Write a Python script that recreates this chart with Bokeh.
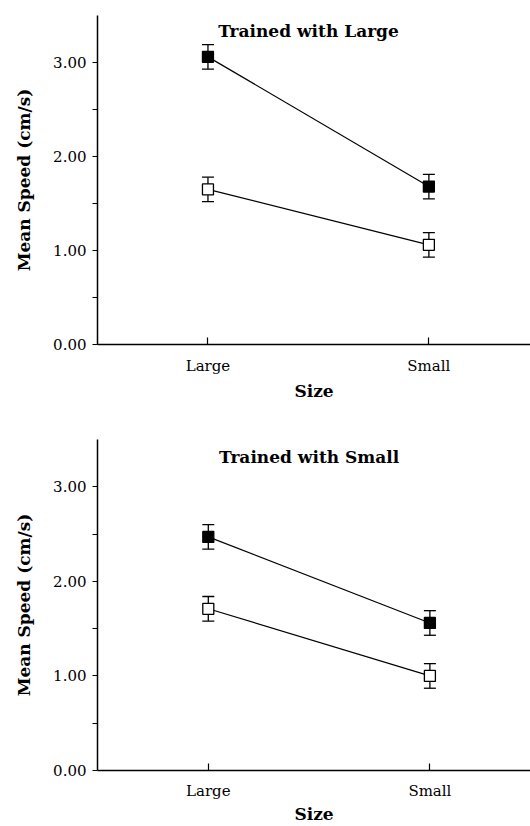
from bokeh.plotting import figure
from bokeh.models import ColumnDataSource, Whisker, TeeHead, FixedTicker, Label, Range1d
from bokeh.layouts import column
from bokeh.embed import file_html
from bokeh.resources import INLINE

# ---- data ----
sizes = ["Large", "Small"]
y_ticks = [0, 1, 2, 3]
y_minor_ticks = [0.5, 1.5, 2.5]
y_tick_labels = ["0.00", "1.00", "2.00", "3.00"]

titles = ["Trained with Large", "Trained with Small"]

large_filled = [3.06, 1.68]
large_filled_err = [0.13, 0.13]
large_open = [1.65, 1.06]
large_open_err = [0.13, 0.13]

small_filled = [2.47, 1.56]
small_filled_err = [0.13, 0.13]
small_open = [1.71, 1.00]
small_open_err = [0.13, 0.13]

FONT = "DejaVu Serif"


def make(title, filled, filled_err, open_, open_err, height, b_top, b_left, b_bottom, x_end,
         title_y, tick_standoff, label_standoff):
    xs = list(range(len(sizes)))
    p = figure(width=530, height=height, output_backend="svg", toolbar_location=None,
               x_range=Range1d(-0.5, x_end), y_range=Range1d(0, 3.5),
               min_border_top=b_top, min_border_left=b_left, min_border_right=0,
               min_border_bottom=b_bottom)
    p.outline_line_color = None
    p.xgrid.visible = False
    p.ygrid.visible = False
    p.background_fill_color = "white"

    for vals, errs, fill in ((filled, filled_err, "black"), (open_, open_err, "white")):
        src = ColumnDataSource(dict(x=xs, y=vals,
                                    lo=[v - e for v, e in zip(vals, errs)],
                                    hi=[v + e for v, e in zip(vals, errs)]))
        w = Whisker(source=src, base="x", lower="lo", upper="hi", dimension="height",
                    line_color="black", line_width=1.3, level="underlay",
                    upper_head=TeeHead(size=12, line_color="black", line_width=1.3),
                    lower_head=TeeHead(size=12, line_color="black", line_width=1.3))
        p.add_layout(w)
        p.line("x", "y", source=src, line_color="black", line_width=1.2)
        p.scatter("x", "y", source=src, marker="square", size=11, fill_color=fill,
                  line_color="black", line_width=1.3)

    p.add_layout(Label(x=0.455, y=title_y, text=title, text_align="center", text_baseline="middle",
                       text_font=FONT, text_font_style="bold", text_font_size="17px",
                       text_color="black"))

    # y axis
    ya = p.yaxis[0]
    ya.ticker = FixedTicker(ticks=y_ticks, minor_ticks=y_minor_ticks)
    ya.major_label_overrides = {t: l for t, l in zip(y_ticks, y_tick_labels)}
    ya.major_tick_in = 0
    ya.major_tick_out = 5
    ya.minor_tick_in = 0
    ya.minor_tick_out = 5
    ya.axis_line_width = 1.5
    ya.axis_line_color = "black"
    ya.major_tick_line_width = 1.2
    ya.minor_tick_line_width = 1.2
    ya.major_tick_line_color = "black"
    ya.minor_tick_line_color = "black"
    ya.major_label_text_font = FONT
    ya.major_label_text_font_size = "15px"
    ya.major_label_text_color = "black"
    ya.major_label_standoff = 6
    ya.axis_label = "Mean Speed (cm/s)"
    ya.axis_label_text_font = FONT
    ya.axis_label_text_font_style = "bold"
    ya.axis_label_text_font_size = "17px"
    ya.axis_label_text_color = "black"
    ya.axis_label_standoff = 16

    # x axis
    xa = p.xaxis[0]
    xa.ticker = FixedTicker(ticks=xs, minor_ticks=[])
    xa.major_label_overrides = {i: s for i, s in enumerate(sizes)}
    xa.major_tick_in = 7
    xa.major_tick_out = 0
    xa.axis_line_width = 1.5
    xa.axis_line_color = "black"
    xa.major_tick_line_width = 1.2
    xa.major_tick_line_color = "black"
    xa.major_label_text_font = FONT
    xa.major_label_text_font_size = "15px"
    xa.major_label_text_color = "black"
    xa.major_label_standoff = tick_standoff
    xa.axis_label = "Size"
    xa.axis_label_text_font = FONT
    xa.axis_label_text_font_style = "bold"
    xa.axis_label_text_font_size = "17px"
    xa.axis_label_text_color = "black"
    xa.axis_label_standoff = label_standoff
    return p


p1 = make(titles[0], large_filled, large_filled_err, large_open, large_open_err,
          height=404, b_top=15, b_left=95, b_bottom=60, x_end=1.46, title_y=3.34,
          tick_standoff=12, label_standoff=3)
p2 = make(titles[1], small_filled, small_filled_err, small_open, small_open_err,
          height=422, b_top=35, b_left=97, b_bottom=52, x_end=1.454, title_y=3.32,
          tick_standoff=11, label_standoff=1)

layout = column(p1, p2, spacing=0)
open("out.html", "w").write(file_html(layout, INLINE))
